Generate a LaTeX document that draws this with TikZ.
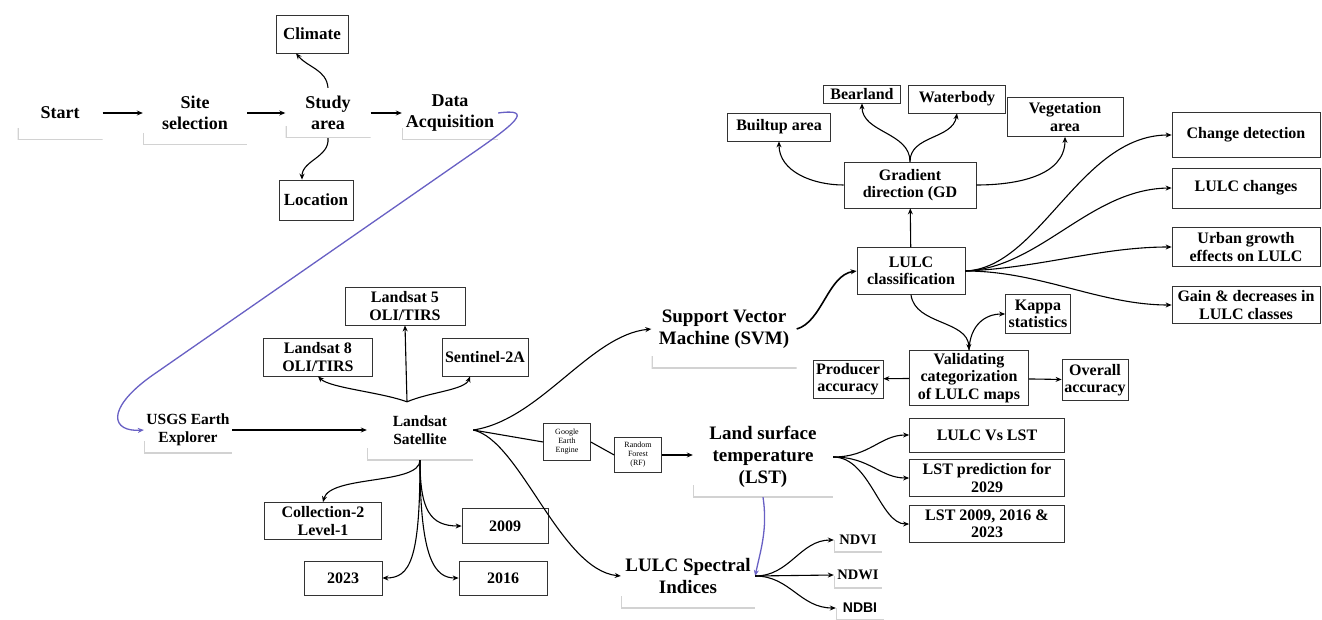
\documentclass[tikz,border=0pt]{standalone}
\usepackage{fontspec}
\setmainfont{Liberation Serif}
\setsansfont{Liberation Sans}
\usetikzlibrary{arrows.meta}
\definecolor{linkblue}{RGB}{104,96,196}

\begin{document}
\begin{tikzpicture}[
        x=1pt, y=-1pt,
        box/.style={rectangle, draw=black!80, line width=0.8pt, fill=white, align=center, inner sep=1pt, font=\fontsize{16}{17.5}\selectfont\bfseries},
        flat/.style={rectangle, align=center, inner sep=0pt, path picture={
            \draw[gray!35, line width=2.5pt] ([yshift=12pt]path picture bounding box.south west) -- (path picture bounding box.south west) -- (path picture bounding box.south east);}},
        stage/.style={flat, font=\fontsize{18}{21}\selectfont\bfseries},
        source/.style={flat, font=\fontsize{15.5}{18}\selectfont\bfseries},
        topic/.style={flat, font=\fontsize{19}{22}\selectfont\bfseries},
        index/.style={flat, font=\fontsize{14.5}{16}\selectfont\bfseries},
        tool/.style={box, font=\fontsize{8}{9}\selectfont, line width=0.6pt},
        arrow/.style={-{Stealth[length=6pt, width=5pt]}, line width=1.1pt},
        link/.style={arrow, draw=linkblue, line width=1.3pt}
    ]

    \fill[white] (0,0) rectangle (1322,620);
    \useasboundingbox (0,0) rectangle (1322,620);

    % first row
    \node (start) [stage, minimum width=85pt, minimum height=54pt] at (60,113) {Start};
    \node (site) [stage, minimum width=104pt, minimum height=64pt] at (195,113) {Site\\selection};
    \node (study) [stage, minimum width=85pt, minimum height=50pt] at (328,113) {Study\\area};
    \node (data) [stage, minimum width=96pt, minimum height=54pt] at (450,113) {Data\\Acquisition};
    \node (climate) [box, font=\fontsize{17}{19}\selectfont\bfseries, minimum width=72pt, minimum height=38pt] at (312,34) {Climate};
    \node (location) [box, font=\fontsize{17}{19}\selectfont\bfseries, minimum width=74pt, minimum height=40pt] at (316,200) {Location};

    % satellite data
    \node (usgs) [source, minimum width=88pt, minimum height=46pt] at (188,430) {USGS Earth\\Explorer};
    \node (landsat) [source, minimum width=106pt, minimum height=60pt] at (420,430) {Landsat\\Satellite};
    \node (ls5) [box, minimum width=120pt, minimum height=38pt] at (405,306) {Landsat 5\\OLI/TIRS};
    \node (ls8) [box, minimum width=109pt, minimum height=38pt] at (318,357) {Landsat 8\\OLI/TIRS};
    \node (sentinel) [box, minimum width=86pt, minimum height=38pt] at (485,357) {Sentinel-2A};
    \node (coll) [box, minimum width=117pt, minimum height=37pt] at (323,521) {Collection-2\\Level-1};
    \node (y2009) [box, minimum width=86pt, minimum height=35pt] at (505,526) {2009};
    \node (y2023) [box, minimum width=78pt, minimum height=34pt] at (343,578) {2023};
    \node (y2016) [box, minimum width=88pt, minimum height=34pt] at (503,578) {2016};
    \node (gee) [tool, minimum width=47pt, minimum height=37pt] at (567,442) {Google\\Earth\\Engine};
    \node (rf) [tool, minimum width=47pt, minimum height=35pt] at (638,455) {Random\\Forest\\(RF)};

    % LST and indices
    \node (lst) [topic, minimum width=140pt, minimum height=80pt] at (763,457) {Land surface\\temperature\\(LST)};
    \node (lsi) [topic, minimum width=134pt, minimum height=64pt] at (688,576) {LULC Spectral\\Indices};
    \node (ndvi) [index, minimum width=48pt, minimum height=24pt] at (858,540) {NDVI};
    \node (ndwi) [index, minimum width=48pt, minimum height=26pt] at (858,575) {NDWI};
    \node (ndbi) [index, font=\fontsize{14}{16}\selectfont\sffamily\bfseries, minimum width=48pt, minimum height=24pt] at (860,608) {NDBI};
    \node (lulcvs) [box, minimum width=155pt, minimum height=34pt] at (987,435) {LULC Vs LST};
    \node (pred) [box, minimum width=155pt, minimum height=37pt] at (987,478) {LST prediction for\\2029};
    \node (lst3) [box, minimum width=155pt, minimum height=37pt] at (987,524) {LST 2009, 2016 \&\\2023};

    % classification
    \node (svm) [topic, minimum width=145pt, minimum height=78pt] at (724,329) {Support Vector\\Machine (SVM)};
    \node (lulccl) [box, minimum width=108pt, minimum height=47pt] at (911,271) {LULC\\classification};
    \node (grad) [box, minimum width=132pt, minimum height=46pt] at (910,185) {Gradient\\direction (GD};
    \node (builtup) [box, minimum width=103pt, minimum height=28pt] at (779,127) {Builtup area};
    \node (bear) [box, minimum width=77pt, minimum height=18pt] at (862,94) {Bearland};
    \node (water) [box, minimum width=97pt, minimum height=28pt] at (957,99) {Waterbody};
    \node (veg) [box, minimum width=116pt, minimum height=39pt] at (1065,117) {Vegetation\\area};
    \node (change) [box, minimum width=148pt, minimum height=45pt] at (1246,135) {Change detection};
    \node (lchg) [box, minimum width=148pt, minimum height=40pt] at (1246,188) {LULC changes};
    \node (urban) [box, minimum width=148pt, minimum height=39pt] at (1246,247) {Urban growth\\effects on LULC};
    \node (gain) [box, minimum width=148pt, minimum height=37pt] at (1246,305) {Gain \& decreases in\\LULC classes};
    \node (valid) [box, minimum width=119pt, minimum height=55pt] at (969,378) {Validating\\categorization\\of LULC maps};
    \node (kappa) [box, minimum width=65pt, minimum height=39pt] at (1038,314) {Kappa\\statistics};
    \node (prod) [box, minimum width=70pt, minimum height=38pt] at (848,379) {Producer\\accuracy};
    \node (overall) [box, minimum width=66pt, minimum height=41pt] at (1095,380) {Overall\\accuracy};

    \coordinate (fan) at ([xshift=-13pt, yshift=-2pt]landsat.north);

    % connectors
    \draw [arrow] (start) -- (site);
    \draw [arrow] (site) -- (study);
    \draw [arrow] (study) -- (data);
    \draw [arrow] (study.north) to[out=95, in=-50] ([xshift=-16pt]climate.south);
    \draw [arrow] (study.south) to[out=-85, in=90] ([xshift=-14pt]location.north);
    \draw [link] (data.east) .. controls (535,108) and (515,124) .. (467,157) -- (150,377) .. controls (105,410) and (112,432) .. (usgs.west);

    \draw [arrow] (usgs) -- (landsat);
    \draw [arrow] (fan) -- (ls5.south);
    \draw [arrow] (fan) .. controls (380,392) and (330,388) .. (ls8.south);
    \draw [arrow] (fan) .. controls (430,392) and (465,390) .. ([xshift=-15pt]sentinel.south);
    \draw [arrow] (landsat.south) .. controls (420,485) and (330,475) .. (coll.north);
    \draw [arrow] (landsat.south) .. controls (420,510) and (430,526) .. (y2009.west);
    \draw [arrow] (landsat.south) .. controls (420,560) and (410,578) .. (y2023.east);
    \draw [arrow] (landsat.south) .. controls (420,560) and (435,578) .. (y2016.west);
    \draw [line width=1.1pt] (landsat.east) -- (gee.west);
    \draw [line width=1.1pt] (gee.east) -- (rf.west);
    \draw [arrow] (rf.east) -- (rf.east -| lst.west);
    \draw [arrow] (landsat.east) .. controls (540,420) and (590,335) .. (svm.west);
    \draw [arrow] (landsat.east) .. controls (520,440) and (560,570) .. (lsi.west);

    \draw [link] (lst.south) .. controls (768,530) and (760,552) .. (lsi.east);
    \draw [arrow] (lsi.east) .. controls (790,576) and (800,540) .. (ndvi.west);
    \draw [arrow] (lsi.east) -- (ndwi.west);
    \draw [arrow] (lsi.east) .. controls (790,576) and (800,608) .. (ndbi.west);
    \draw [arrow] (lst.east) .. controls (870,457) and (880,435) .. (lulcvs.west);
    \draw [arrow] (lst.east) .. controls (870,457) and (880,478) .. (pred.west);
    \draw [arrow] (lst.east) .. controls (870,457) and (880,524) .. (lst3.west);

    \draw [arrow, line width=1.6pt] (svm.east) .. controls (822,322) and (828,275) .. (lulccl.west);
    \draw [arrow] (lulccl) -- (grad);
    \draw [arrow] (grad.west) to[out=180, in=-90] (builtup.south);
    \draw [arrow] (grad.north) to[out=90, in=-90] (bear.south);
    \draw [arrow] (grad.north) to[out=90, in=-100] (water.south);
    \draw [arrow] (grad.east) to[out=0, in=-90] (veg.south);
    \draw [arrow] (lulccl.east) .. controls (1040,268) and (1080,135) .. (change.west);
    \draw [arrow] (lulccl.east) .. controls (1040,268) and (1090,189) .. (lchg.west);
    \draw [arrow] (lulccl.east) .. controls (1040,268) and (1100,247) .. (urban.west);
    \draw [arrow] (lulccl.east) .. controls (1040,271) and (1100,305) .. (gain.west);
    \draw [arrow] (lulccl.south) .. controls (915,325) and (968,320) .. (valid.north);
    \draw [arrow] (valid.north) .. controls (970,325) and (985,314) .. (kappa.west);
    \draw [arrow] (valid) -- (prod);
    \draw [arrow] (valid) -- (overall);

\end{tikzpicture}
\end{document}
